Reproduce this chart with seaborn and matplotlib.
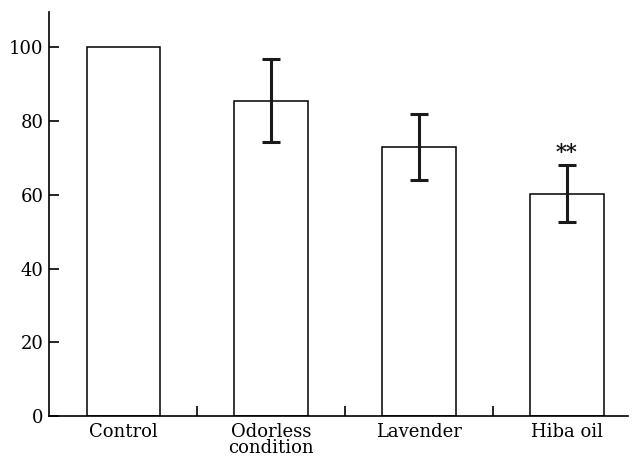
import numpy as np
import pandas as pd
import matplotlib
matplotlib.use("Agg")
import matplotlib.pyplot as plt
import seaborn as sns

# valores
grupos = ["Control", "Odorless\ncondition", "Lavender", "Hiba oil"]
medias = [100.0, 85.5, 73.0, 60.3]
erros = [0.0, 11.3, 8.9, 7.7]
marcas = ["", "", "", "**"]
y_ticks = [0, 20, 40, 60, 80, 100]

df = pd.DataFrame({"grupo": grupos, "media": medias, "erro": erros})

sns.set_style("ticks", {"axes.edgecolor": "black", "text.color": "black",
                        "xtick.color": "black", "ytick.color": "black"})
plt.rcParams["font.family"] = ["DejaVu Serif"]

fig = plt.figure(figsize=(6.34, 4.58), dpi=100)
ax = fig.add_axes([0.0773, 0.0917, 0.913, 0.883])

sns.barplot(data=df, x="grupo", y="media", color="white", edgecolor="black",
            linewidth=1.1, width=0.5, errorbar=None, ax=ax)

# barras de erro (sem a do controle)
pos = np.arange(len(grupos))
mask = df["erro"] > 0
ax.errorbar(pos[mask], df["media"][mask], yerr=df["erro"][mask], fmt="none",
            ecolor="#1a1a1a", elinewidth=2.2, capsize=6.5, capthick=2.2)

for i, m in enumerate(marcas):
    if m:
        ax.text(pos[i], medias[i] + erros[i] + 0.8, m, ha="center", va="bottom",
                fontsize=15, fontweight="bold", color="#111111")

ax.set_xlim(-0.504, 3.412)
ax.set_ylim(0, 109.7)
ax.set_yticks(y_ticks)
ax.set_xlabel("")
ax.set_ylabel("")
sns.despine(ax=ax)
for s in ["left", "bottom"]:
    ax.spines[s].set_linewidth(1.2)

ax.tick_params(axis="y", direction="in", length=7, width=1.2, pad=4, labelsize=13,
               colors="black")
ax.tick_params(axis="x", which="major", length=0, pad=5, labelsize=13, colors="black")
ax.set_xticks([0.5, 1.5, 2.5], minor=True)
ax.tick_params(axis="x", which="minor", direction="in", length=7, width=1.2)
for lbl in ax.get_xticklabels():
    lbl.set_linespacing(0.85)

fig.savefig("out.png", dpi=100)
